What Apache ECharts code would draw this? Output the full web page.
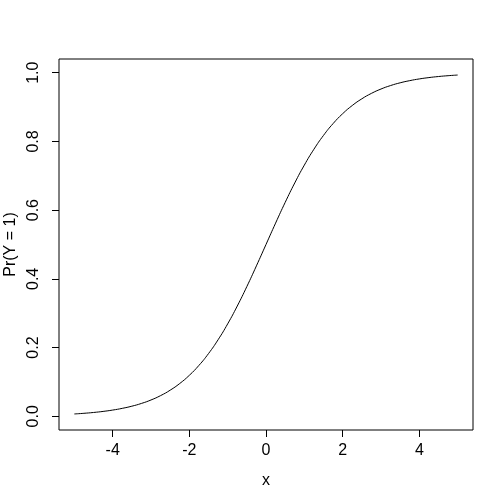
<!DOCTYPE html>
<html><head><meta charset="utf-8">
<script src="https://cdn.jsdelivr.net/npm/echarts@6/dist/echarts.min.js"></script>
<style>html,body{margin:0;padding:0;background:#fff}#c{width:504px;height:504px}</style>
</head><body><div id="c"></div>
<script>
var xValues = [-5,-4.75,-4.5,-4.25,-4,-3.75,-3.5,-3.25,-3,-2.75,-2.5,-2.25,-2,-1.75,-1.5,-1.25,-1,-0.75,-0.5,-0.25,0,0.25,0.5,0.75,1,1.25,1.5,1.75,2,2.25,2.5,2.75,3,3.25,3.5,3.75,4,4.25,4.5,4.75,5];
var yValues = [0.0067,0.0086,0.0110,0.0141,0.0180,0.0230,0.0293,0.0373,0.0474,0.0601,0.0759,0.0954,0.1192,0.1480,0.1824,0.2227,0.2689,0.3208,0.3775,0.4378,0.5,0.5622,0.6225,0.6792,0.7311,0.7773,0.8176,0.8520,0.8808,0.9046,0.9241,0.9399,0.9526,0.9627,0.9707,0.9770,0.9820,0.9859,0.9890,0.9914,0.9933];
var xTicks = [-4,-2,0,2,4];
var yTicks = [0,0.2,0.4,0.6,0.8,1.0];
var xTitle = 'x';
var yTitle = 'Pr(Y = 1)';

var font = 'Liberation Sans';
var chart = echarts.init(document.getElementById('c'), null, {renderer:'canvas'});
chart.setOption({
  animation:false,
  backgroundColor:'#fff',
  grid:{left:59,right:31,top:59,bottom:74,show:true,borderColor:'#000',borderWidth:1,backgroundColor:'transparent',
    containLabel:false,outerBoundsMode:'none'},
  xAxis:{type:'value',min:-5.4,max:5.4,
    name:xTitle,nameLocation:'middle',nameGap:43,nameTextStyle:{fontFamily:font,fontSize:16,color:'#000'},
    axisLine:{show:false,onZero:false},
    axisTick:{show:true,customValues:xTicks,length:7,lineStyle:{color:'#000'}},
    axisLabel:{customValues:xTicks,margin:13,fontFamily:font,fontSize:16,color:'#000'},
    splitLine:{show:false}},
  yAxis:{type:'value',min:-0.04,max:1.04,
    name:yTitle,nameLocation:'middle',nameGap:40,nameRotate:90,nameTextStyle:{fontFamily:font,fontSize:16,color:'#000'},
    axisLine:{show:false,onZero:false},
    axisTick:{show:true,customValues:yTicks,length:7,lineStyle:{color:'#000'}},
    axisLabel:{customValues:yTicks,rotate:90,margin:25,fontFamily:font,fontSize:16,color:'#000',align:'center',verticalAlign:'middle',
      formatter:function(v){return v.toFixed(1);}},
    splitLine:{show:false}},
  series:[{type:'line',data:xValues.map(function(x,i){return [x,yValues[i]];}),
    smooth:true,showSymbol:false,lineStyle:{color:'#000',width:1}}]
});
</script></body></html>
